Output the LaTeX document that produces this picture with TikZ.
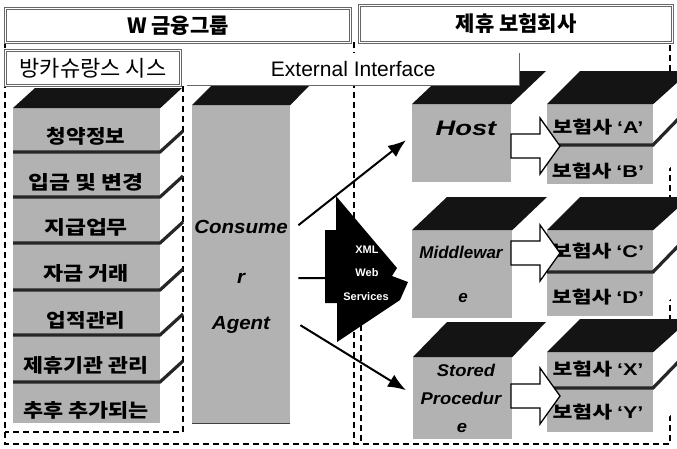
\documentclass[tikz,border=0pt]{standalone}
\usepackage{fontspec}
\usepackage{graphicx}
\setmainfont{Liberation Sans}
\newfontfamily\kr{Noto Sans CJK KR}
\usetikzlibrary{arrows.meta}
\newcommand\wx[2]{\scalebox{#1}[1]{#2}}
\newcommand\inslab[1]{\wx{1.27}{보험사 {\rmfamily ‘#1’}}}
\begin{document}
\begin{tikzpicture}[x=1pt,y=-1pt,
  frontface/.style={fill=black!30, draw=none, inner sep=0pt},
  topface/.style={fill=black!92},
  sideface/.style={fill=white},
  sepband/.style={line width=3.2pt, draw=black!85, line join=miter},
  dashln/.style={draw=black, line width=1.6pt, dash pattern=on 6pt off 4pt},
  hdrbox/.style={draw=black!60, double=white, double distance=1.4pt, line width=1.1pt, fill=white, inner sep=0pt},
  hdrtxt/.style={font=\kr\bfseries\fontsize{21}{21}\selectfont},
  slabtxt/.style={font=\kr\bfseries\fontsize{19}{19}\selectfont, inner sep=0pt},
  instxt/.style={font=\kr\bfseries\fontsize{17}{17}\selectfont, inner sep=0pt},
  agtxt/.style={font=\bfseries\itshape\fontsize{19}{19}\selectfont, inner sep=0pt},
  srvtxt/.style={font=\bfseries\itshape\fontsize{17}{17}\selectfont, inner sep=0pt},
  xmltxt/.style={font=\bfseries\fontsize{11}{11}\selectfont, text=white, inner sep=0pt},
  conn/.style={draw=black, line width=2pt, -{Latex[length=18pt,width=14pt]}},
  blockarr/.style={draw=black, line width=1.3pt, fill=white, line join=miter}
]
\useasboundingbox (0,0) rectangle (677,448);

% dashed frames
\draw[dashln] (5,42) -- (5,444) -- (670,444) -- (670,45);
\draw[dashln] (183,86) -- (183,432) -- (5,432);
\draw[dashln] (354,42) -- (354,444);
\draw[dashln] (361,325) -- (361,444);

% headers
\node[hdrbox, hdrtxt, minimum width=345pt, minimum height=34pt, anchor=north west] (hdrL) at (5,8) {W 금융그룹};
\node[hdrbox, hdrtxt, minimum width=313pt, minimum height=37pt, anchor=north west] (hdrR) at (359,5) {제휴 보험회사};

% left stack
\node[frontface, minimum width=147pt, minimum height=315pt, anchor=north west] (stack) at (13,108) {};
\fill[topface] (stack.north west) -- ++(22,-20) -- ++(147,0) -- (stack.north east) -- cycle;
\foreach \b in {152,197,243,290,335,382}{
  \draw[sepband] (13,\b) -- (160,\b) -- (183,\b-21);
}
\node[slabtxt] (s1) at (86,136) {\wx{1.12}{청약정보}};
\node[slabtxt] (s2) at (86,182) {\wx{1.2}{입금 및 변경}};
\node[slabtxt] (s3) at (86,227) {\wx{1.2}{지급업무}};
\node[slabtxt] (s4) at (86,273) {\wx{1.15}{자금 거래}};
\node[slabtxt] (s5) at (86,320) {\wx{1.12}{업적관리}};
\node[slabtxt] (s6) at (86,365) {\wx{1.14}{제휴기관 관리}};
\node[slabtxt] (s7) at (86,410) {\wx{1.15}{추후 추가되는}};

% consumer agent
\node[frontface, minimum width=98pt, minimum height=318pt, anchor=north west] (ca) at (192,105) {};
\fill[topface] (ca.north west) -- ++(20,-20) -- ++(98,0) -- (ca.north east) -- cycle;
\draw[black!75, line width=1.2pt] (ca.south west) -- (ca.south east);
\node[agtxt] (ca1) at (241,227) {\wx{1.08}{Consume}};
\node[agtxt] (ca2) at (241,278) {\wx{1.08}{r}};
\node[agtxt] (ca3) at (241,325) {\wx{1.08}{Agent}};

% host / middleware / stored procedure
\node[frontface, minimum width=99pt, minimum height=78pt, anchor=north west] (host) at (412,104) {};
\fill[topface] (host.north west) -- ++(35,-33) -- ++(99,0) -- (host.north east) -- cycle;
\node[font=\bfseries\itshape\fontsize{21}{21}\selectfont, inner sep=0pt] (hostt) at (466,128) {\wx{1.3}{Host}};

\node[frontface, minimum width=100pt, minimum height=88pt, anchor=north west] (mid) at (412,230) {};
\fill[topface] (mid.north west) -- ++(35,-33) -- ++(100,0) -- (mid.north east) -- cycle;
\node[srvtxt] (midt1) at (461,252) {Middlewar};
\node[srvtxt] (midt2) at (463,298) {e};

\node[frontface, minimum width=99pt, minimum height=82pt, anchor=north west] (sp) at (413,357) {};
\fill[topface] (sp.north west) -- ++(34,-35) -- ++(99,0) -- (sp.north east) -- cycle;
\node[srvtxt] (spt1) at (466,370) {\wx{1.08}{Stored}};
\node[srvtxt] (spt2) at (461,398) {\wx{1.08}{Procedur}};
\node[srvtxt] (spt3) at (462,428) {\wx{1.08}{e}};

% insurer boxes
\foreach \nm/\t/\h/\s in {insA/104/80/145, insC/230/86/272, insX/352/80/388}{
  \node[frontface, minimum width=106pt, minimum height=\h pt, anchor=north west] (\nm) at (547,\t) {};
  \fill[sideface] (\nm.north east) -- ++(33,-33) -- ++(0,\h) -- (\nm.south east) -- cycle;
  \fill[topface] (\nm.north west) -- ++(33,-33) -- ++(110,0) -- (\nm.north east) -- cycle;
  \draw[sepband] (547,\s) -- (653,\s) -- (682,\s-30);
}
\node[instxt] (iA) at (598,127) {\inslab{A}};
\node[instxt] (iB) at (598,171) {\inslab{B}};
\node[instxt] (iC) at (598,251) {\inslab{C}};
\node[instxt] (iD) at (598,297) {\inslab{D}};
\node[instxt] (iX) at (598,369) {\inslab{X}};
\node[instxt] (iY) at (598,412) {\inslab{Y}};

% label boxes on top
\node[hdrbox, minimum width=175pt, minimum height=35pt, anchor=north west,
      font=\kr\fontsize{22}{22}\selectfont] (bk) at (5,50) {방카슈랑스 시스};
\node[fill=white, minimum width=332pt, minimum height=32pt, anchor=north west, inner sep=0pt,
      font=\fontsize{21}{21}\selectfont] (ext) at (187,53) {External Interface};
\draw[black!60, line width=1.5pt] (ext.south west) -- (ext.south east) -- (ext.north east);

% XML Web Services shape
\fill[black] (336,196) -- (397,268) -- (392,276) -- (408,282) -- (400,300) -- (337,342)
  -- (337,303) -- (325,303) -- (325,230) -- (336,230) -- cycle;
\node[xmltxt] (x1) at (367,250) {XML};
\node[xmltxt] (x2) at (367,273) {Web};
\node[xmltxt] (x3) at (366,297) {Services};
\coordinate (xmlL) at (326,278);

% connectors
\draw[conn] ([xshift=8pt,yshift=39pt]ca.east) -- ([xshift=-6pt,yshift=3pt]host.west);
\draw[draw=black, line width=2pt] ([xshift=8pt,yshift=-14pt]ca.east) -- (xmlL);
\draw[conn] ([xshift=10pt,yshift=-61pt]ca.east) -- ([xshift=-7pt,yshift=8pt]sp.west);

% block arrows
\foreach \c in {146,253,396}{
  \draw[blockarr] (511,\c-12) -- (540,\c-12) -- (540,\c-28) -- (560,\c) -- (540,\c+28)
    -- (540,\c+12) -- (511,\c+12) -- cycle;
}
\end{tikzpicture}
\end{document}
